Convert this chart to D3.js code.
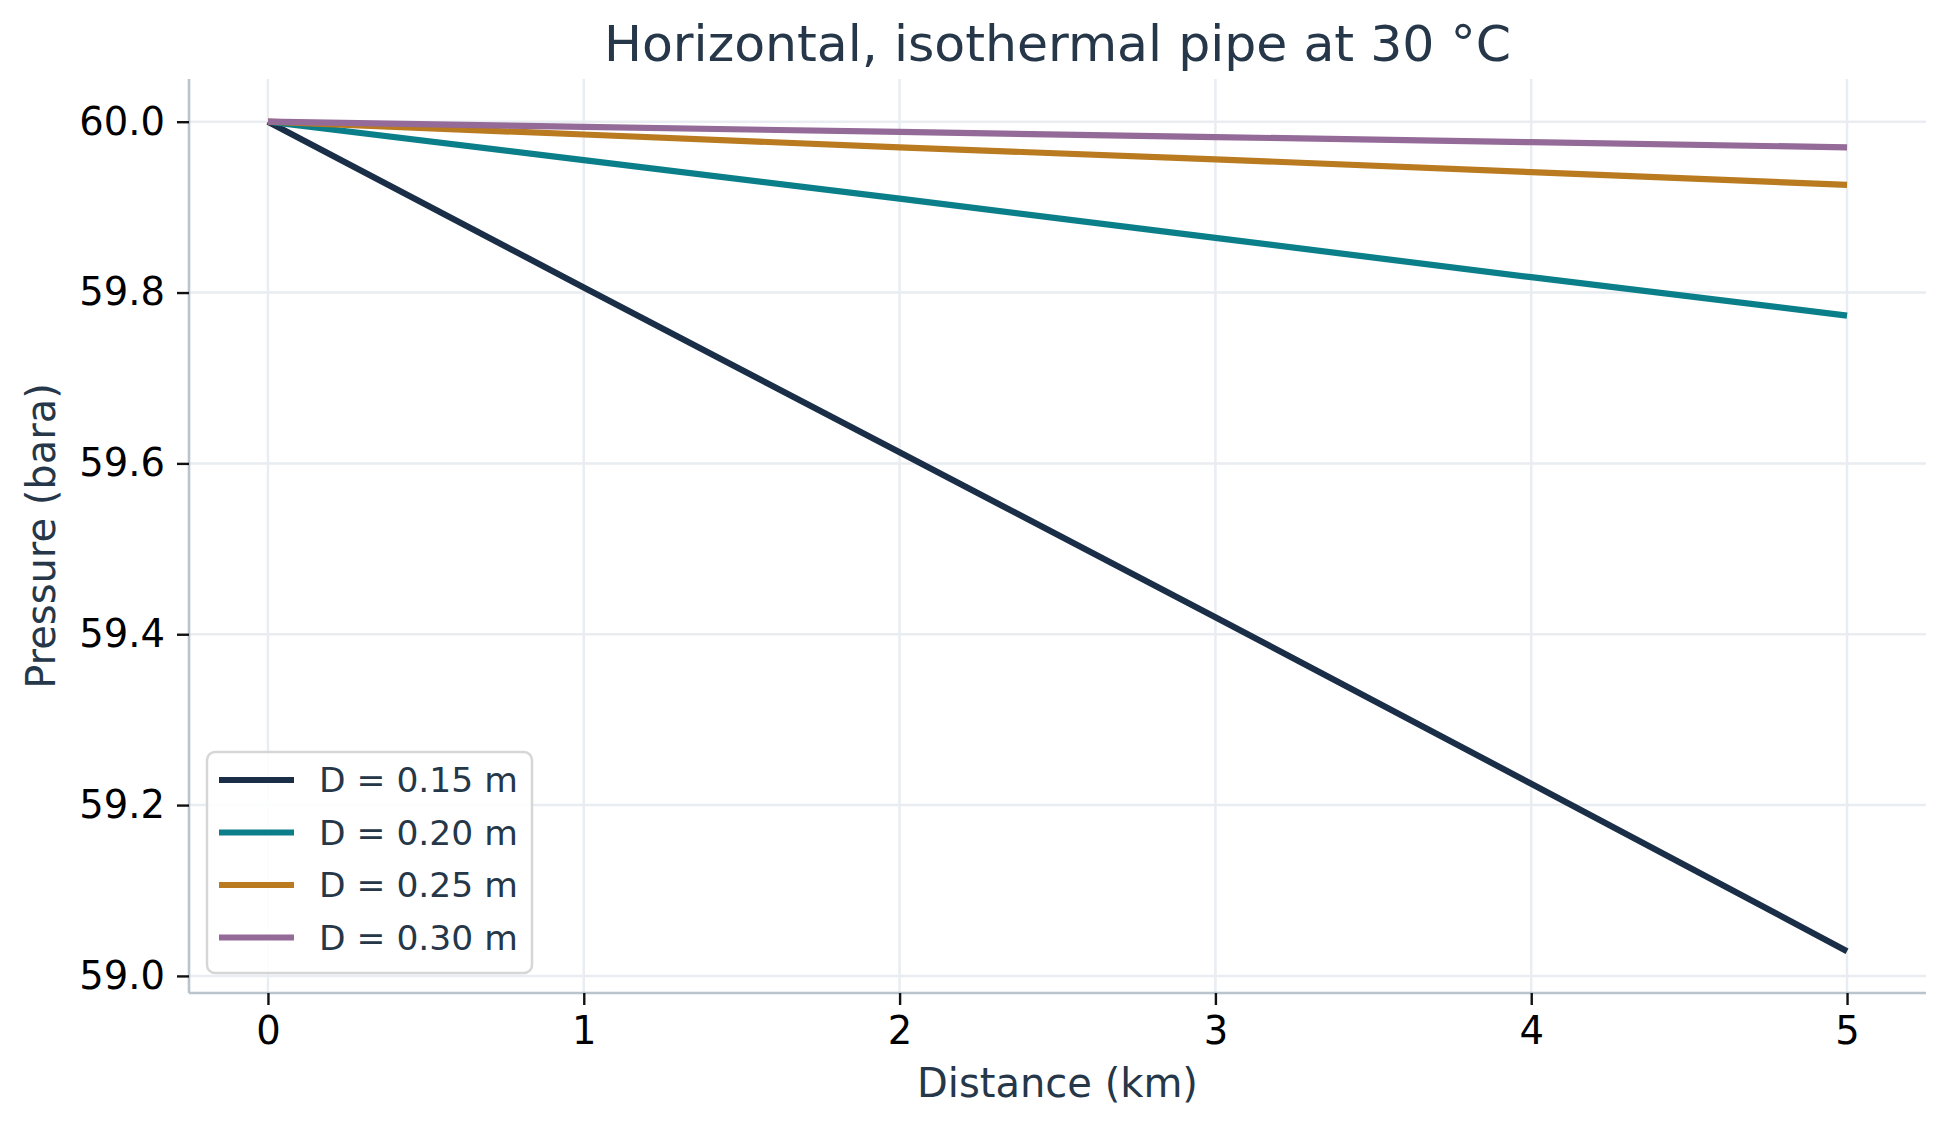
<!DOCTYPE html>
<html>
<head>
<meta charset="utf-8">
<script src="https://cdn.jsdelivr.net/npm/d3@7"></script>
<style>
  body { margin: 0; background: #ffffff; }
  svg { display: block; }
</style>
</head>
<body>
<div id="app"></div>
<script>
// distance along the pipe (km)
const distanceKm = [0, 1, 2, 3, 4, 5];

// pressure (bara) for each diameter
const pD015 = [60.0, 59.806, 59.613, 59.420, 59.225, 59.029];
const pD020 = [60.0, 59.955, 59.910, 59.864, 59.818, 59.773];
const pD025 = [60.0, 59.985, 59.970, 59.956, 59.941, 59.926];
const pD030 = [60.0, 59.994, 59.988, 59.982, 59.976, 59.970];

const seriesNames = ['D = 0.15 m', 'D = 0.20 m', 'D = 0.25 m', 'D = 0.30 m'];
const seriesValues = [pD015, pD020, pD025, pD030];
const seriesColors = ['#1a2e48', '#0b7f89', '#b97a20', '#946a98'];

const xTicks = [0, 1, 2, 3, 4, 5];
const yTicks = [59.0, 59.2, 59.4, 59.6, 59.8, 60.0];

const W = 1947, H = 1131;
const plot = { left: 189, right: 1926, top: 79, bottom: 993 };
const textColor = '#253748';
const font = 'DejaVu Sans, sans-serif';

const svg = d3.select('#app')
  .append('svg')
  .attr('width', W)
  .attr('height', H);

const x = d3.scaleLinear().domain([-0.25, 5.25]).range([plot.left, plot.right]);
const y = d3.scaleLinear().domain([58.98, 60.05]).range([plot.bottom, plot.top]);

// grid
svg.append('g')
  .selectAll('line')
  .data(xTicks)
  .join('line')
  .attr('x1', d => x(d)).attr('x2', d => x(d))
  .attr('y1', plot.top).attr('y2', plot.bottom)
  .attr('stroke', '#e9edf1')
  .attr('stroke-width', 2.5);

svg.append('g')
  .selectAll('line')
  .data(yTicks)
  .join('line')
  .attr('x1', plot.left).attr('x2', plot.right)
  .attr('y1', d => y(d)).attr('y2', d => y(d))
  .attr('stroke', '#e9edf1')
  .attr('stroke-width', 2.5);

// axes
const xAxis = svg.append('g')
  .attr('transform', `translate(0,${plot.bottom})`)
  .call(d3.axisBottom(x).tickValues(xTicks).tickFormat(d3.format('d')).tickSize(12).tickPadding(12));

const yAxis = svg.append('g')
  .attr('transform', `translate(${plot.left},0)`)
  .call(d3.axisLeft(y).tickValues(yTicks).tickFormat(d3.format('.1f')).tickSize(12).tickPadding(12));

[xAxis, yAxis].forEach(ax => {
  ax.select('.domain').attr('stroke', '#b9c4cc').attr('stroke-width', 2.6);
  ax.selectAll('.tick line').attr('stroke', '#111').attr('stroke-width', 2.4);
  ax.selectAll('.tick text')
    .attr('fill', '#000')
    .attr('font-family', font)
    .attr('font-size', 38.5);
});
// matplotlib style: spine without end caps
xAxis.select('.domain').attr('d', `M${plot.left},0H${plot.right}`);
yAxis.select('.domain').attr('d', `M0,${plot.top}V${plot.bottom}`);

// lines
const line = d3.line()
  .x((d, i) => x(distanceKm[i]))
  .y(d => y(d));

svg.append('g')
  .selectAll('path')
  .data(seriesValues)
  .join('path')
  .attr('d', d => line(d))
  .attr('fill', 'none')
  .attr('stroke', (d, i) => seriesColors[i])
  .attr('stroke-width', 6.2)
  .attr('stroke-linecap', 'butt');

// title and axis labels
svg.append('text')
  .attr('x', (plot.left + plot.right) / 2)
  .attr('y', 61)
  .attr('text-anchor', 'middle')
  .attr('font-family', font)
  .attr('font-size', 50.5)
  .attr('fill', textColor)
  .text('Horizontal, isothermal pipe at 30 °C');

svg.append('text')
  .attr('x', (plot.left + plot.right) / 2)
  .attr('y', 1097)
  .attr('text-anchor', 'middle')
  .attr('font-family', font)
  .attr('font-size', 40)
  .attr('fill', textColor)
  .text('Distance (km)');

svg.append('text')
  .attr('transform', `translate(55,${(plot.top + plot.bottom) / 2}) rotate(-90)`)
  .attr('text-anchor', 'middle')
  .attr('font-family', font)
  .attr('font-size', 40)
  .attr('fill', textColor)
  .text('Pressure (bara)');

// legend
const legend = svg.append('g').attr('transform', 'translate(207,752)');
legend.append('rect')
  .attr('width', 325)
  .attr('height', 221)
  .attr('rx', 8)
  .attr('fill', 'rgba(255,255,255,0.85)')
  .attr('stroke', '#d6d6d6')
  .attr('stroke-width', 2.5);

const rows = legend.selectAll('g')
  .data(seriesNames)
  .join('g')
  .attr('transform', (d, i) => `translate(0,${28 + i * 52.5})`);

rows.append('line')
  .attr('x1', 12).attr('x2', 87)
  .attr('stroke', (d, i) => seriesColors[i])
  .attr('stroke-width', 6.2);

rows.append('text')
  .attr('x', 112)
  .attr('dy', '0.36em')
  .attr('font-family', font)
  .attr('font-size', 34.5)
  .attr('fill', textColor)
  .text(d => d);
</script>
</body>
</html>
